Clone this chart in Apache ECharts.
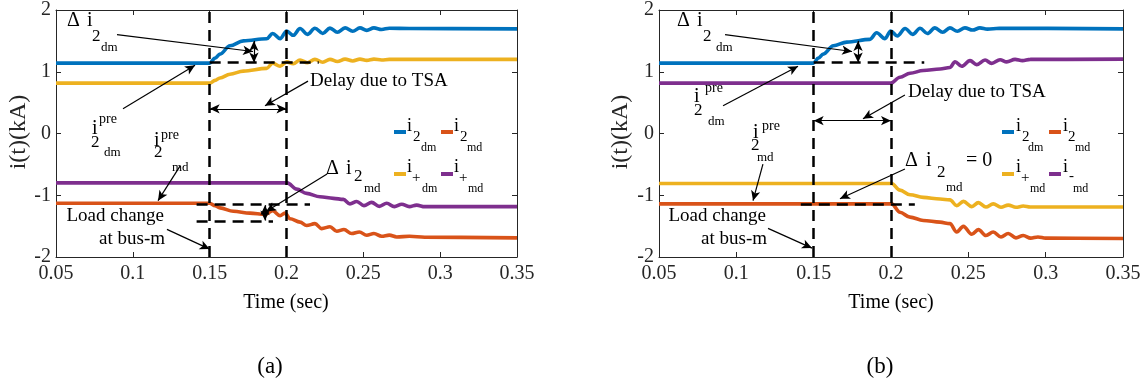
<!DOCTYPE html>
<html>
<head>
<meta charset="utf-8">
<script src="https://cdn.jsdelivr.net/npm/echarts@6/dist/echarts.min.js"></script>
<style>
  html, body { margin: 0; padding: 0; background: #ffffff; }
  #chart { width: 1145px; height: 390px; }
</style>
</head>
<body>
<div id="chart"></div>
<script>
// ---- time axis / current axis ticks ----
const timeTicks = [0.05, 0.1, 0.15, 0.2, 0.25, 0.3, 0.35];
const currentTicks = [-2, -1, 0, 1, 2];

// ---- panel (a): currents in kA, [time (s), value] ----
const a_i2dm = [[0.05,1.14],[0.150,1.14],[0.1535,1.22],[0.1567,1.285],[0.1632,1.42],[0.1719,1.50],[0.1871,1.535],
  [0.1910,1.62],[0.1958,1.536],[0.2001,1.66],[0.2044,1.59],[0.2088,1.70],[0.2136,1.605],[0.2185,1.705],[0.2236,1.62],
  [0.2283,1.707],[0.2331,1.64],[0.2381,1.71],[0.2431,1.655],[0.2478,1.71],[0.2522,1.67],[0.2569,1.71],[0.2619,1.685],
  [0.2669,1.705],[0.28,1.70],[0.35,1.695]];
const a_i2md = [[0.05,-1.13],[0.150,-1.13],[0.1535,-1.17],[0.1567,-1.205],[0.1654,-1.26],[0.1762,-1.29],[0.1860,-1.31],
  [0.1910,-1.25],[0.1958,-1.33],[0.1990,-1.29],[0.2023,-1.38],[0.2088,-1.435],[0.2131,-1.49],[0.2185,-1.46],[0.2229,-1.54],
  [0.2283,-1.51],[0.2327,-1.584],[0.2374,-1.555],[0.2424,-1.62],[0.2474,-1.595],[0.2522,-1.648],[0.2569,-1.62],
  [0.2619,-1.665],[0.2669,-1.645],[0.2717,-1.675],[0.28,-1.665],[0.29,-1.68],[0.35,-1.69]];
const a_ipdm = [[0.05,0.815],[0.150,0.815],[0.1535,0.86],[0.1567,0.90],[0.1632,0.96],[0.1719,1.01],[0.1871,1.055],
  [0.1910,1.14],[0.1958,1.09],[0.2001,1.16],[0.2044,1.13],[0.2088,1.19],[0.2136,1.145],[0.2185,1.20],[0.2236,1.155],
  [0.2283,1.20],[0.2331,1.165],[0.2381,1.205],[0.2431,1.175],[0.2478,1.205],[0.2522,1.185],[0.2569,1.205],
  [0.2619,1.19],[0.2669,1.20],[0.35,1.20]];
const a_ipmd = [[0.05,-0.80],[0.2005,-0.80],[0.2066,-0.90],[0.2131,-0.97],[0.2218,-1.024],[0.2305,-1.05],[0.2370,-1.067],
  [0.2413,-1.14],[0.2457,-1.10],[0.2504,-1.168],[0.2554,-1.115],[0.2604,-1.18],[0.2652,-1.13],[0.2702,-1.185],
  [0.2750,-1.145],[0.2799,-1.185],[0.2847,-1.16],[0.29,-1.185],[0.35,-1.185]];

// ---- panel (b): currents in kA, [time (s), value] ----
const b_i2dm = [[0.05,1.14],[0.1498,1.14],[0.1530,1.22],[0.1562,1.285],[0.1627,1.42],[0.1714,1.48],[0.1864,1.525],
  [0.1907,1.632],[0.1961,1.536],[0.1998,1.66],[0.2041,1.58],[0.2091,1.70],[0.2140,1.605],[0.2188,1.705],[0.2235,1.62],
  [0.2284,1.71],[0.2334,1.64],[0.2381,1.71],[0.2429,1.655],[0.2478,1.71],[0.2528,1.675],[0.2575,1.71],[0.2623,1.69],
  [0.27,1.705],[0.35,1.695]];
const b_i2md = [[0.05,-1.14],[0.2004,-1.14],[0.2058,-1.275],[0.2123,-1.355],[0.2209,-1.408],[0.2317,-1.435],[0.2381,-1.46],
  [0.2425,-1.595],[0.2468,-1.504],[0.2522,-1.632],[0.2565,-1.557],[0.2614,-1.653],[0.2661,-1.595],[0.2711,-1.675],
  [0.2758,-1.62],[0.2808,-1.69],[0.2855,-1.653],[0.2903,-1.695],[0.295,-1.675],[0.30,-1.695],[0.35,-1.70]];
const b_ipmd = [[0.05,-0.81],[0.2004,-0.81],[0.2058,-0.917],[0.2123,-0.992],[0.2209,-1.035],[0.2317,-1.061],[0.2381,-1.075],
  [0.2425,-1.168],[0.2468,-1.099],[0.2522,-1.184],[0.2565,-1.12],[0.2614,-1.19],[0.2661,-1.14],[0.2711,-1.195],
  [0.2758,-1.16],[0.2808,-1.195],[0.2855,-1.175],[0.29,-1.19],[0.35,-1.19]];
const b_immd = [[0.05,0.815],[0.1998,0.815],[0.2058,0.912],[0.2123,0.976],[0.2209,1.02],[0.2317,1.045],[0.2381,1.07],
  [0.2414,1.163],[0.2457,1.088],[0.2511,1.18],[0.2554,1.115],[0.2608,1.19],[0.2651,1.135],[0.2705,1.195],
  [0.2748,1.16],[0.2802,1.20],[0.2850,1.18],[0.29,1.20],[0.35,1.205]];

// ---- annotation geometry in data units (time, kA) ----
const eventTimes = [0.15, 0.2];               // load change, TSA action
const a_preLevel = [[0.15, 1.15], [0.221, 1.15]];
const a_mdLevels = [[[0.1415, -1.15], [0.2153, -1.15]], [[0.1415, -1.42], [0.1912, -1.42]]];
const b_preLevel = [[0.15, 1.15], [0.2215, 1.15]];
const b_mdLevel = [[0.1417, -1.14], [0.2154, -1.14]];

const BLUE = '#0072BD', ORANGE = '#D95319', YELLOW = '#EDB120', PURPLE = '#7E2F8E';
const INK = '#262626';
const FONT = '"Liberation Serif", "Times New Roman", serif';

const chart = echarts.init(document.getElementById('chart'), null, { renderer: 'canvas' });

function fmtTime(v) { return String(+v.toFixed(2)); }

function axesFor(gi) {
  const tick = { show: true, inside: true, length: 5, lineStyle: { color: INK, width: 1 } };
  const line = { show: true, onZero: false, lineStyle: { color: INK, width: 1 } };
  const lab = { fontFamily: FONT, fontSize: 20, color: INK };
  const xBase = { type: 'value', gridIndex: gi, min: timeTicks[0], max: timeTicks[timeTicks.length - 1],
    interval: 0.05, splitLine: { show: false }, axisLine: line, axisTick: tick };
  const yBase = { type: 'value', gridIndex: gi, min: currentTicks[0], max: currentTicks[currentTicks.length - 1],
    interval: 1, splitLine: { show: false }, axisLine: line, axisTick: tick };
  return {
    x: [
      Object.assign({}, xBase, { position: 'bottom', axisLabel: Object.assign({ margin: 7, formatter: fmtTime }, lab) }),
      Object.assign({}, xBase, { position: 'top', axisLabel: { show: false } })
    ],
    y: [
      Object.assign({}, yBase, { position: 'left', axisLabel: Object.assign({ margin: 5 }, lab) }),
      Object.assign({}, yBase, { position: 'right', axisLabel: { show: false } })
    ]
  };
}

function curve(gi, data, color) {
  return { type: 'line', xAxisIndex: gi * 2, yAxisIndex: gi * 2, data: data, showSymbol: false,
    smooth: 0.35, smoothMonotone: 'x', lineStyle: { width: 3.6, color: color }, itemStyle: { color: color },
    z: 2, silent: true, animation: false };
}

const dashStyle = { color: '#000', width: 2.5, type: [11, 7] };
const thin = { color: '#000', width: 1.2, type: 'solid' };

function seg(p, q, s0, s1, style) {
  return [
    { coord: p, symbol: s0, symbolSize: [7, 10], lineStyle: style },
    { coord: q, symbol: s1, symbolSize: [7, 10] }
  ];
}

function notes(gi, items) {
  return { type: 'line', xAxisIndex: gi * 2, yAxisIndex: gi * 2, data: [], z: 6, silent: true, animation: false,
    markLine: { silent: true, animation: false, symbol: ['none', 'none'], label: { show: false },
      emphasis: { disabled: true }, data: items } };
}

const annA = [
  { xAxis: eventTimes[0], lineStyle: dashStyle },
  { xAxis: eventTimes[1], lineStyle: dashStyle },
  seg(a_preLevel[0], a_preLevel[1], 'none', 'none', dashStyle),
  seg(a_mdLevels[0][0], a_mdLevels[0][1], 'none', 'none', dashStyle),
  seg(a_mdLevels[1][0], a_mdLevels[1][1], 'none', 'none', dashStyle),
  seg([0.1788, 1.15], [0.1788, 1.50], 'arrow', 'arrow', thin),
  seg([0.186, -1.16], [0.186, -1.41], 'arrow', 'arrow', thin),
  seg([0.15, 0.40], [0.2, 0.40], 'arrow', 'arrow', thin),
  seg([0.0897, 1.60], [0.1782, 1.328], 'none', 'arrow', thin),
  seg([0.0936, 0.40], [0.1405, 1.104], 'none', 'arrow', thin),
  seg([0.214, 0.848], [0.186, 0.448], 'none', 'arrow', thin),
  seg([0.1307, -0.528], [0.1164, -1.088], 'none', 'arrow', thin),
  seg([0.2264, -0.656], [0.1867, -1.264], 'none', 'arrow', thin),
  seg([0.1222, -1.552], [0.15, -1.872], 'none', 'arrow', thin)
];
const annB = [
  { xAxis: eventTimes[0], lineStyle: dashStyle },
  { xAxis: eventTimes[1], lineStyle: dashStyle },
  seg(b_preLevel[0], b_preLevel[1], 'none', 'none', dashStyle),
  seg(b_mdLevel[0], b_mdLevel[1], 'none', 'none', dashStyle),
  seg([0.1787, 1.15], [0.1787, 1.50], 'arrow', 'arrow', thin),
  seg([0.15, 0.208], [0.2, 0.208], 'arrow', 'arrow', thin),
  seg([0.0927, 1.60], [0.1748, 1.328], 'none', 'arrow', thin),
  seg([0.0914, 0.448], [0.1399, 1.088], 'none', 'arrow', thin),
  seg([0.209, 0.624], [0.1819, 0.24], 'none', 'arrow', thin),
  seg([0.1172, -0.496], [0.1108, -1.088], 'none', 'arrow', thin),
  seg([0.209, -0.576], [0.167, -1.056], 'none', 'arrow', thin),
  seg([0.1205, -1.536], [0.1489, -1.856], 'none', 'arrow', thin)
];

// text piece placed by its baseline
function txt(x, base, s, size, align) {
  const a = align || 'left';
  return { type: 'text', x: x, y: base - 0.34 * size, silent: true, z: 20,
    style: { text: s, fontFamily: FONT, fontSize: size, fill: '#000',
      align: a, textAlign: a, verticalAlign: 'middle', textVerticalAlign: 'middle' } };
}
function swatch(x, y, color) {
  return { type: 'rect', silent: true, z: 20, shape: { x: x, y: y, width: 12, height: 4 }, style: { fill: color } };
}

const g = [];
// ---- panel (a) texts ----
g.push(txt(67, 28, 'Δ', 20), txt(87, 28, 'i', 20), txt(92, 42, '2', 17), txt(101, 52, 'dm', 13));
g.push(txt(92, 136, 'i', 20), txt(99, 124, 'pre', 14), txt(91, 148, '2', 17), txt(104, 157, 'dm', 13));
g.push(txt(154, 148, 'i', 20), txt(161, 140, 'pre', 14), txt(154, 158, '2', 17), txt(172, 172, 'md', 13));
g.push(txt(326, 176, 'Δ', 20), txt(346, 176, 'i', 20), txt(354, 182, '2', 17), txt(364, 193, 'md', 13));
g.push(txt(310, 87, 'Delay due to TSA', 19));
g.push(txt(164, 222, 'Load change', 19, 'right'), txt(165, 245, 'at bus-m', 19, 'right'));
// legend (a)
g.push(swatch(394, 130, BLUE), txt(407, 132, 'i', 18), txt(413, 142, '2', 15), txt(421, 152, 'dm', 12));
g.push(swatch(441, 130, ORANGE), txt(454, 132, 'i', 18), txt(460, 142, '2', 15), txt(467, 152, 'md', 12));
g.push(swatch(394, 172, YELLOW), txt(407, 173, 'i', 18), txt(412, 183, '+', 15), txt(422, 193, 'dm', 12));
g.push(swatch(441, 172, PURPLE), txt(454, 173, 'i', 18), txt(459, 183, '+', 15), txt(468, 193, 'md', 12));

// ---- panel (b) texts ----
g.push(txt(677, 28, 'Δ', 20), txt(697, 28, 'i', 20), txt(703, 42, '2', 17), txt(716, 52, 'dm', 13));
g.push(txt(694, 104, 'i', 20), txt(705, 93, 'pre', 14), txt(694, 116, '2', 17), txt(708, 126, 'dm', 13));
g.push(txt(753, 140, 'i', 20), txt(762, 131, 'pre', 14), txt(751, 151, '2', 17), txt(757, 162, 'md', 13));
g.push(txt(905, 168, 'Δ', 20), txt(926, 168, 'i', 20), txt(937, 178, '2', 17), txt(946, 192, 'md', 13), txt(966, 168, '= 0', 20));
g.push(txt(908, 98, 'Delay due to TSA', 19));
g.push(txt(766, 222, 'Load change', 19, 'right'), txt(767, 245, 'at bus-m', 19, 'right'));
// legend (b)
g.push(swatch(1002, 130, BLUE), txt(1016, 132, 'i', 18), txt(1022, 142, '2', 15), txt(1028, 152, 'dm', 12));
g.push(swatch(1049, 130, ORANGE), txt(1063, 132, 'i', 18), txt(1068, 142, '2', 15), txt(1075, 152, 'md', 12));
g.push(swatch(1002, 172, YELLOW), txt(1016, 173, 'i', 18), txt(1021, 183, '+', 15), txt(1030, 193, 'md', 12));
g.push(swatch(1049, 172, PURPLE), txt(1063, 173, 'i', 18), txt(1069, 181, '-', 15), txt(1073, 193, 'md', 12));

// ---- axis titles and panel captions ----
function rotated(x, y, s, size) {
  return { type: 'text', x: x, y: y, rotation: Math.PI / 2, silent: true, z: 20,
    style: { text: s, fontFamily: FONT, fontSize: size, fill: INK, align: 'center', textAlign: 'center',
      verticalAlign: 'middle', textVerticalAlign: 'middle' } };
}
g.push(rotated(19, 132, 'i(t)(kA)', 24), rotated(621, 132, 'i(t)(kA)', 24));
g.push(txt(286, 310, 'Time (sec)', 20, 'center'), txt(891, 310, 'Time (sec)', 20, 'center'));
g.push(txt(270, 375, '(a)', 23, 'center'), txt(880, 375, '(b)', 23, 'center'));

const axA = axesFor(0), axB = axesFor(1);

chart.setOption({
  animation: false,
  backgroundColor: '#ffffff',
  grid: [
    { left: 56, top: 7, width: 461, height: 250 },
    { left: 659, top: 7, width: 464, height: 250 }
  ],
  xAxis: axA.x.concat(axB.x),
  yAxis: axA.y.concat(axB.y),
  series: [
    curve(0, a_ipdm, YELLOW), curve(0, a_ipmd, PURPLE), curve(0, a_i2md, ORANGE), curve(0, a_i2dm, BLUE),
    notes(0, annA),
    curve(1, b_immd, PURPLE), curve(1, b_ipmd, YELLOW), curve(1, b_i2md, ORANGE), curve(1, b_i2dm, BLUE),
    notes(1, annB)
  ],
  graphic: { elements: g }
});
</script>
</body>
</html>
